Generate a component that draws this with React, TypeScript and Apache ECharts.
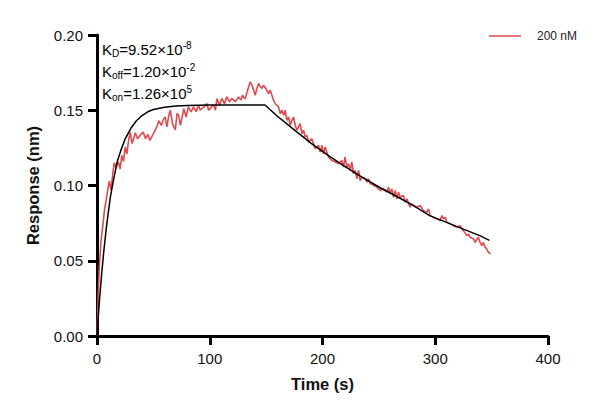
import React, { useEffect, useRef } from "react";
import * as echarts from "echarts";

const timeRed = [
  0, 1, 2, 3.5, 5, 6.5, 8, 9.5, 11, 12.5, 14, 15.3, 17, 19, 20.5, 22, 23.5, 25, 26.5, 28,
  29.5, 31, 32.5, 34, 36, 38, 41, 43, 45, 47, 49, 51, 53, 55, 57, 59, 60.5, 62, 63.5, 65,
  67, 69.5, 71, 72.3, 74, 77, 79, 81, 83.5, 85.6, 88, 90, 91.5, 93, 95, 97.5, 99, 100.4, 102, 103.4,
  105, 106.4, 108.5, 110.8, 113, 115.2, 117.5, 119.7, 122.5, 125.5, 127.5, 129, 130.5, 131.5, 134.4, 135.9, 137.4, 138.9, 140.3, 141.8,
  143.3, 144.8, 146.3, 147.7, 150.7, 152.1, 153.6, 155.1, 156.6, 158, 159.5, 161, 162.5, 164, 165.5, 166.9, 168.4, 169.9, 171.4, 172.9,
  174.3, 175.8, 177.3, 178.7, 180.2, 181.7, 183.2, 184.7, 186.2, 187.6, 190.6, 193.5, 196.5, 198, 199.5, 200.9, 202.4, 205.3, 208.3, 211.3,
  214.2, 217.2, 218.6, 220, 221.6, 223, 224.6, 226, 227.5, 229, 230.5, 232, 233.4, 234.9, 237.9, 239.4, 240.8, 242.3, 243.8, 245.2,
  248.2, 251.2, 254.1, 257.1, 258.5, 260, 261.5, 263, 264.5, 266, 267.4, 268.9, 271.8, 273.3, 274.8, 277.7, 279.3, 280.7, 283.7, 286.6,
  289.5, 292.6, 294, 295.5, 298.4, 301.4, 304.3, 305.9, 307.3, 308.8, 310.3, 313.2, 316.1, 319.1, 322.1, 323.6, 325, 328, 329.4, 330.9,
  333.9, 335.4, 338.3, 339.8, 341.3, 342.7, 344.2, 345.7, 347.2, 349
];
const responseRed = [
  0, 0.025, 0.045, 0.063, 0.072, 0.083, 0.09, 0.097, 0.103, 0.097, 0.108, 0.115, 0.112, 0.1155, 0.111, 0.12, 0.116, 0.1255, 0.121, 0.13,
  0.1355, 0.128, 0.131, 0.135, 0.131, 0.133, 0.1355, 0.131, 0.134, 0.13, 0.133, 0.136, 0.139, 0.143, 0.14, 0.144, 0.1455, 0.139, 0.146, 0.15,
  0.141, 0.137, 0.148, 0.1467, 0.14, 0.151, 0.1455, 0.1522, 0.1489, 0.1522, 0.149, 0.1533, 0.15, 0.1511, 0.1522, 0.1544, 0.15, 0.1511, 0.153, 0.1533,
  0.15, 0.1578, 0.1533, 0.1578, 0.1544, 0.1589, 0.1556, 0.1578, 0.1556, 0.1589, 0.1567, 0.16, 0.158, 0.1578, 0.1655, 0.1689, 0.1667, 0.1633, 0.16, 0.1645,
  0.1678, 0.1656, 0.1645, 0.1667, 0.1633, 0.1611, 0.1633, 0.16, 0.1567, 0.1545, 0.1533, 0.1522, 0.1478, 0.15, 0.1467, 0.15, 0.1433, 0.1455, 0.14, 0.1433,
  0.1455, 0.14, 0.1367, 0.1389, 0.1411, 0.1345, 0.1367, 0.1322, 0.1333, 0.1289, 0.1311, 0.1245, 0.1267, 0.1222, 0.1267, 0.1211, 0.1256, 0.1189, 0.1167, 0.1156,
  0.1145, 0.1167, 0.1122, 0.1189, 0.1122, 0.1145, 0.11, 0.1156, 0.1078, 0.11, 0.1045, 0.11, 0.1033, 0.1055, 0.1045, 0.1022, 0.1045, 0.1011, 0.1011, 0.1,
  0.0989, 0.0967, 0.0978, 0.0956, 0.0989, 0.0945, 0.0978, 0.0922, 0.0967, 0.0911, 0.0956, 0.0922, 0.0933, 0.0889, 0.0911, 0.0856, 0.0878, 0.0867, 0.0856, 0.0867,
  0.0833, 0.0822, 0.0845, 0.08, 0.0789, 0.0778, 0.0767, 0.08, 0.0778, 0.0789, 0.0756, 0.0745, 0.0733, 0.0722, 0.0733, 0.0711, 0.07, 0.0667, 0.0678, 0.0656,
  0.0645, 0.0622, 0.0656, 0.0622, 0.06, 0.0622, 0.0589, 0.0578, 0.0556, 0.0545
];

const timeFit = [0, 2, 4, 6, 8, 10, 12, 15, 18, 21, 25, 30, 35, 40, 45, 50, 60, 70, 80, 100, 149,
  160, 175, 190, 205, 220, 235, 250, 265, 280, 295, 310, 325, 340, 348];
const responseFit = [0, 0.022, 0.04, 0.056, 0.07, 0.082, 0.093, 0.105, 0.116, 0.123, 0.131, 0.138, 0.143, 0.1465, 0.149, 0.1505, 0.152, 0.1528, 0.1532, 0.1535, 0.1535,
  0.146, 0.137, 0.128, 0.12, 0.1125, 0.1055, 0.099, 0.093, 0.087, 0.08, 0.0755, 0.071, 0.0665, 0.0635];

const seriesName = "200 nM";
const xTicks = { min: 0, max: 400, interval: 100 };
const yTicks = { min: 0, max: 0.2, interval: 0.05 };

const FONT = "'Liberation Sans', Arial, sans-serif";

export default function App() {
  const ref = useRef<HTMLDivElement>(null);
  useEffect(() => {
    if (!ref.current) return;
    const chart = echarts.init(ref.current, null, { renderer: "svg" });
    const rich = {
      b: { fontSize: 15, fontFamily: FONT, color: "#111" },
      sub: { fontSize: 10, fontFamily: FONT, color: "#111", padding: [8, 0, 0, 0] },
      sup: { fontSize: 10, fontFamily: FONT, color: "#111", padding: [0, 0, 8, 0] },
    };
    chart.setOption({
      animation: false,
      backgroundColor: "#fff",
      grid: { left: 97, right: 54, top: 35, bottom: 76, containLabel: false },
      legend: {
        left: 484,
        top: 25,
        itemWidth: 32,
        itemHeight: 14,
        data: [{ name: seriesName, icon: "path://M0,0 L32,0 L32,1.5 L0,1.5 Z" }],
        textStyle: { fontSize: 12, fontFamily: FONT, color: "#222", padding: [0, 0, 0, 11] },
      },
      xAxis: {
        type: "value",
        min: xTicks.min,
        max: xTicks.max,
        interval: xTicks.interval,
        name: "Time (s)",
        nameLocation: "middle",
        nameGap: 39,
        nameTextStyle: { fontSize: 16.5, fontWeight: "bold", fontFamily: FONT, color: "#111" },
        axisLine: { lineStyle: { color: "#000", width: 3 } },
        axisTick: { length: 9, lineStyle: { color: "#000", width: 3 } },
        axisLabel: { fontSize: 15, fontFamily: FONT, color: "#111", margin: 15 },
        splitLine: { show: false },
      },
      yAxis: {
        type: "value",
        min: yTicks.min,
        max: yTicks.max,
        interval: yTicks.interval,
        name: "Response (nm)",
        nameLocation: "middle",
        nameGap: 56,
        nameTextStyle: { fontSize: 16.5, fontWeight: "bold", fontFamily: FONT, color: "#111" },
        axisLine: { show: true, lineStyle: { color: "#000", width: 3 } },
        axisTick: { show: true, length: 9, lineStyle: { color: "#000", width: 3 } },
        axisLabel: {
          fontSize: 15,
          fontFamily: FONT,
          color: "#111",
          margin: 14,
          formatter: (v: number) => v.toFixed(2),
        },
        splitLine: { show: false },
      },
      series: [
        {
          name: seriesName,
          type: "line",
          symbol: "none",
          data: timeRed.map((t, i) => [t, responseRed[i]]),
          lineStyle: { color: "#e04a4f", width: 1.6 },
          itemStyle: { color: "#e04a4f" },
          z: 2,
        },
        {
          name: "fit",
          type: "line",
          symbol: "none",
          smooth: false,
          data: timeFit.map((t, i) => [t, responseFit[i]]),
          lineStyle: { color: "#000", width: 1.5 },
          itemStyle: { color: "#000" },
          z: 3,
        },
      ],
      graphic: [
        {
          type: "text",
          left: 102,
          top: 40,
          style: { rich, text: "{b|K}{sub|D}{b|=9.52×10}{sup|-8}" },
        },
        {
          type: "text",
          left: 102,
          top: 62,
          style: { rich, text: "{b|K}{sub|off}{b|=1.20×10}{sup|-2}" },
        },
        {
          type: "text",
          left: 102,
          top: 84,
          style: { rich, text: "{b|K}{sub|on}{b|=1.26×10}{sup|5}" },
        },
      ],
    });
    return () => chart.dispose();
  }, []);
  return <div ref={ref} style={{ width: 602, height: 412, position: "absolute", left: 0, top: 0 }} />;
}
